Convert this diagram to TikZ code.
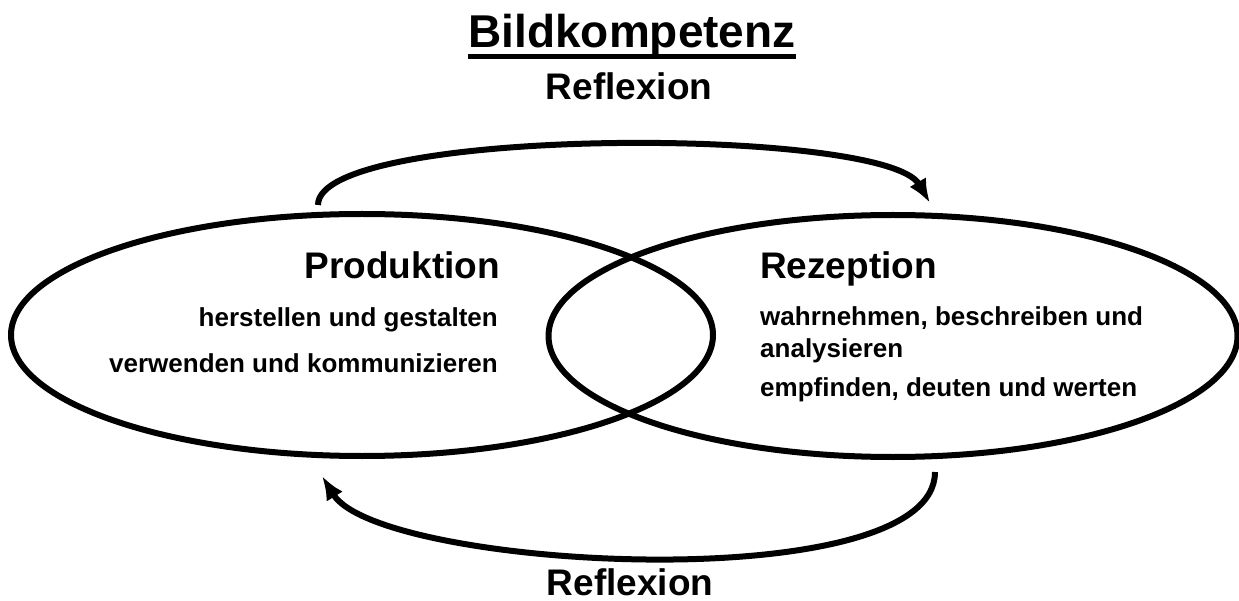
\documentclass[tikz,border=0pt]{standalone}
\usepackage{fontspec}
\setmainfont{Liberation Sans}
\usetikzlibrary{shapes.geometric,positioning,calc,arrows.meta}
\newcommand{\kreis}[3]{\node[ellipse,draw,line width=6pt,minimum width=#3,minimum height=242pt](#1) at (#2){};}
\newcommand{\zeile}[4][west]{\node[sub,anchor=base #1](#2) at (#3){#4};}

\begin{document}
\begin{tikzpicture}[x=1pt,y=-1pt,>={Latex[length=24pt,width=19pt]},
  big/.style={font=\fontsize{37}{40}\selectfont\bfseries,inner sep=0},
  sub/.style={font=\fontsize{26}{30}\selectfont\bfseries,inner sep=0}]
\useasboundingbox (0,0) rectangle (1239,601);

\node[font=\fontsize{46}{50}\selectfont\bfseries,inner sep=0,anchor=base](titel) at (632,48){Bildkompetenz};
\draw[line width=5pt] ($(titel.base west)+(0,9)$) -- ($(titel.base east)+(0,9)$);

\kreis{prod}{362,335}{702pt}
\kreis{rez}{893,336}{689pt}

% Produktion
\node[big,anchor=base east](prodt) at (500,279){Produktion};
\zeile[east]{p1}{498,327}{herstellen und gestalten}
\zeile[east]{p2}{498,373}{verwenden und kommunizieren}

% Rezeption
\node[big,anchor=base west](rezt) at (760,279){Rezeption};
\zeile{r1}{760,326}{wahrnehmen, beschreiben und}
\zeile{r2}{760,357}{analysieren}
\zeile{r3}{760,396}{empfinden, deuten und werten}

% Reflexion
\node[big,anchor=base](refl1) at (629,100){Reflexion};
\node[big,anchor=base](refl2) at (630,595){Reflexion};
\coordinate (a1) at (318,205);
\coordinate (a2) at (930,203);
\coordinate (b1) at (935,472);
\coordinate (b2) at (322,476);
\draw[->,line width=6pt] (a1) .. controls (318,126) and (885,126) .. (a2);
\draw[->,line width=6pt] (b1) .. controls (935,600) and (380,570) .. (b2);

\end{tikzpicture}
\end{document}
